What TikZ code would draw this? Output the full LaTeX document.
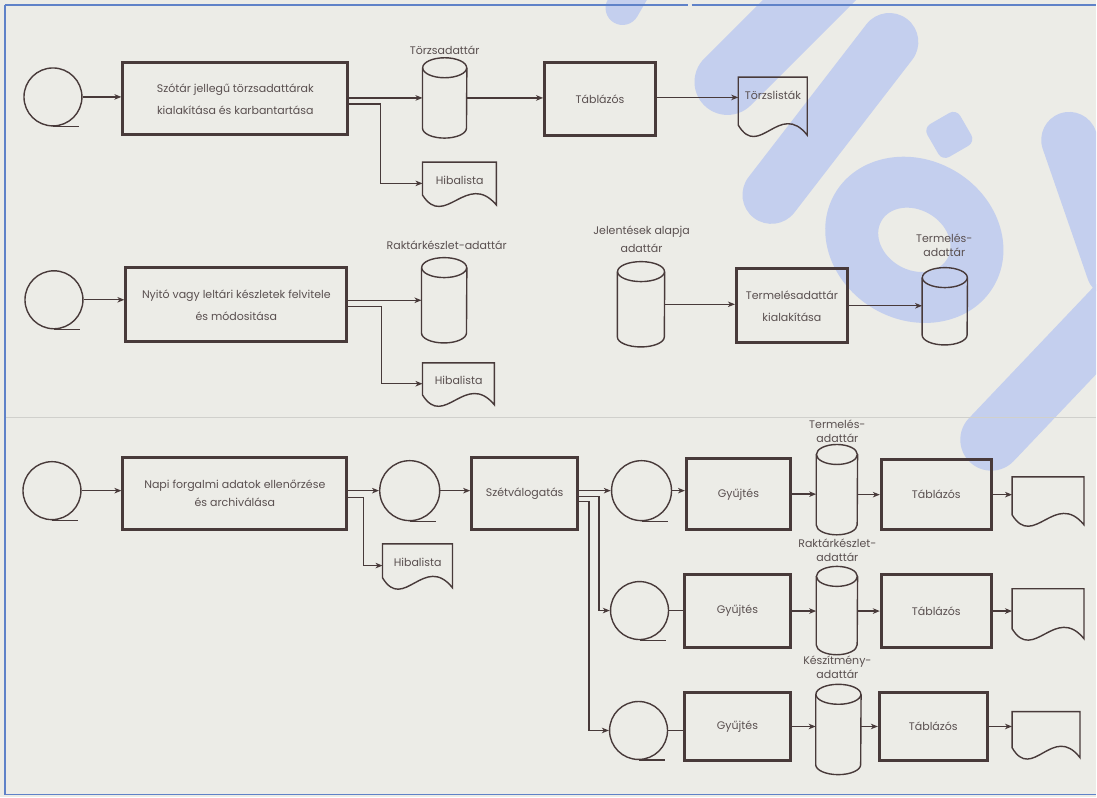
\documentclass[tikz,border=0pt]{standalone}
\usepackage{fontspec}
\setmainfont{Poppins}
\usetikzlibrary{arrows.meta,calc}
\definecolor{paper}{RGB}{236,236,231}
\definecolor{ink}{RGB}{72,58,58}
\definecolor{txt}{RGB}{90,80,80}
\definecolor{frameblue}{RGB}{95,130,200}
\definecolor{wm}{RGB}{196,207,238}
\definecolor{rule}{RGB}{208,208,204}
\newcommand\drawcyl[2]{%
  \draw[thinline] ([yshift=-10pt]#1.north) ellipse [x radius=#2pt, y radius=10pt];
  \draw[thinline] ([yshift=-10pt]#1.north west) -- ([yshift=10pt]#1.south west)
     arc[start angle=180, end angle=360, x radius=#2pt, y radius=10pt] -- ([yshift=-10pt]#1.north east);}
\newcommand\drawdoc[3]{%
  \draw[thinline, shift={(#1.south west)}] (0,-10) -- (0,-#3) -- (#2,-#3) -- (#2,0)
     .. controls (0.6*#2,-35) and (0.3*#2,25) .. (0,-10) -- cycle;}
\newcommand\reeltail[1]{\draw[thinline] (#1.south) -- ++(26,0);}
\begin{document}
\begin{tikzpicture}[x=1pt,y=-1pt,
  every node/.style={font=\fontsize{11}{14}\selectfont, text=txt},
  thinline/.style={draw=ink, line width=1.4pt},
  arr/.style={thinline, -{Stealth[length=7pt,width=5.5pt,inset=2pt]}},
  proc/.style n args={2}{rectangle, draw=ink, line width=3pt, minimum width=#1pt, minimum height=#2pt, inner sep=0pt, align=center},
  reel/.style={circle, draw=ink, line width=1.4pt, minimum size=58pt, inner sep=0pt},
  cyl/.style n args={2}{rectangle, minimum width=#1pt, minimum height=#2pt, inner sep=0pt},
  docu/.style n args={2}{rectangle, minimum width=#1pt, minimum height=#2pt, inner sep=0pt},
  lbl/.style={align=center, inner sep=0pt},
  wmstroke/.style={draw=wm, line cap=round, line join=round}
]
% background and frame
\fill[paper] (0,0) rectangle (1097,798);
% watermark
\begin{scope}
\clip (0,0) rectangle (1097,798);
\draw[wmstroke, line width=34pt] (623,8) -- (645,-30);
\draw[wmstroke, line width=66pt] (728,82) -- (840,-30);
\draw[wmstroke, line width=58pt] (772,195) -- (890,42);
\fill[wm, even odd rule, rotate around={-30:(915,240)}] (915,240) ellipse [x radius=92pt, y radius=80pt]
     (915,240) ellipse [x radius=38pt, y radius=30pt];
\fill[wm, rounded corners=8pt, rotate around={30:(950,135)}] (931,116) rectangle (969,154);
\draw[wmstroke, line width=62pt] (992,440) -- (1125,300);
\draw[wmstroke, line width=56pt] (1070,140) -- (1115,270);
\end{scope}
\draw[rule, line width=1pt] (5,418) -- (1097,418);
\draw[frameblue, line width=1.6pt] (5,5) -- (688,5);
\draw[frameblue, line width=1.6pt] (692,5) -- (1097,5);
\draw[frameblue, line width=1.6pt] (5,5) -- (5,795) -- (1097,795);

% ---------- row 1 ----------
\node[reel] (t1) at (53,97) {};
\node[proc={225}{72}] (b1) at (235.5,99) {Szótár jellegű törzsadattárak\\[8pt]kialakítása és karbantartása};
\node[cyl={44}{80}] (c1) at (445,98) {};
\node[lbl] (l1) at (445,50) {Törzsadattár};
\node[proc={111}{73}] (tb1) at (600.5,99.5) {Táblázós};
\node[docu={69}{58}, text depth=22pt] (d1) at (773.5,106) {Törzslisták};
\node[docu={74}{43}, text depth=6pt] (h1) at (460,183.5) {Hibalista};
\reeltail{t1}
\drawcyl{c1}{22}
\drawdoc{d1}{69}{58}
\drawdoc{h1}{74}{43}
\draw[arr] (t1.east) -- (t1.east -| b1.west);
\draw[arr] (b1.east |- c1) -- (c1.west);
\draw[arr] ($(b1.east |- c1)+(0,6)$) -- ++(31,0) |- (h1.west);
\draw[arr] (c1.east) -- (c1.east -| tb1.west);
\draw[arr] ($(tb1.east)+(0,-2)$) -- ($(tb1.east -| d1.west)+(0,-2)$);

% ---------- row 2 ----------
\node[reel] (t2) at (54,300) {};
\node[proc={221}{74}] (b2) at (236.5,305) {Nyitó vagy leltári készletek felvitele\\[8pt]és módositása};
\node[cyl={45}{85}] (c2) at (444.5,300.5) {};
\node[lbl] (l2) at (447,245) {Raktárkészlet-adattár};
\node[docu={72}{42}, text depth=6pt] (h2) at (459,384) {Hibalista};
\node[cyl={47}{85}] (c3) at (641.5,304.5) {};
\node[lbl] (l3) at (642,239) {Jelentések alapja\\[4pt]adattár};
\node[proc={111}{74}] (b3) at (792.5,306) {Termelésadattár\\[8pt]kialakítása};
\node[cyl={45}{77}] (c4) at (945.5,306.5) {};
\node[lbl] (l4) at (945,245) {Termelés-\\adattár};
\reeltail{t2}
\drawcyl{c2}{22.5}
\drawdoc{h2}{72}{42}
\drawcyl{c3}{23.5}
\drawcyl{c4}{22.5}
\draw[arr] (t2.east) -- (t2.east -| b2.west);
\draw[arr] (b2.east |- c2) -- (c2.west);
\draw[arr] ($(b2.east |- c2)+(0,6)$) -- ++(33,0) |- (h2.west);
\draw[arr] (c3.east) -- (c3.east -| b3.west);
\draw[arr] (b3.east) -- (b3.east -| c4.west);

% ---------- row 3 ----------
\node[reel] (t3) at (52,491) {};
\node[proc={224}{72}] (b4) at (235,494) {Napi forgalmi adatok ellenőrzése\\[4pt]és archiválása};
\node[docu={70}{44}, text depth=6pt] (h3) at (418,566) {Hibalista};
\node[reel, minimum size=60pt] (t4) at (410,491) {};
\node[proc={106}{72}] (b5) at (525,494) {Szétválogatás};
\node[reel, minimum size=60pt] (t5) at (642,491) {};
\node[proc={104}{71}] (b6) at (739,494.5) {Gyűjtés};
\node[cyl={41}{90}] (c5) at (837.5,490) {};
\node[lbl] (l5) at (838,432) {Termelés-\\adattár};
\node[proc={110}{70}] (b7) at (937,495) {Táblázós};
\node[docu={72}{48}] (d2) at (1049,501) {};
\reeltail{t3}
\reeltail{t4}
\reeltail{t5}
\drawdoc{h3}{70}{44}
\drawcyl{c5}{20.5}
\drawdoc{d2}{72}{48}
\draw[arr] (t3.east) -- (t3.east -| b4.west);
\draw[arr] (b4.east |- t4) -- (t4.west);
\draw[arr] ($(b4.east |- t4)+(0,7)$) -- ++(15,0) |- (h3.west);
\draw[arr] (t4.east) -- (t4.east -| b5.west);
\draw[arr] (b5.east |- t5) -- (t5.west);
\draw[arr] (t5.east) -- (t5.east -| b6.west);
\draw[arr] (b6.east) -- (b6.east -| c5.west);
\draw[arr] (c5.east |- b7) -- (b7.west);
\draw[arr] (b7.east) -- (b7.east -| d2.west);

% ---------- row 4 ----------
\node[reel] (t6) at (640,611) {};
\node[proc={106}{73}] (b8) at (738,611.5) {Gyűjtés};
\node[cyl={41}{88}] (c6) at (837.5,611) {};
\node[lbl] (l6) at (838,551) {Raktárkészlet-\\adattár};
\node[proc={110}{73}] (b9) at (937,611.5) {Táblázós};
\node[docu={72}{50}] (d3) at (1049,614) {};
\reeltail{t6}
\drawcyl{c6}{20.5}
\drawdoc{d3}{72}{50}
\draw[thinline] (t6.east) -- (t6.east -| b8.west);
\draw[arr] (b8.east) -- (b8.east -| c6.west);
\draw[arr] (c6.east |- b9) -- (b9.west);
\draw[arr] (b9.east) -- (b9.east -| d3.west);

% ---------- row 5 ----------
\node[reel] (t7) at (639,731) {};
\node[proc={106}{68}] (b10) at (738,727) {Gyűjtés};
\node[cyl={45}{90}] (c7) at (839,730) {};
\node[lbl] (l7) at (838,668) {Készítmény-\\adattár};
\node[proc={108}{68}] (b11) at (934,727) {Táblázós};
\node[docu={68}{46}] (d4) at (1047,735) {};
\reeltail{t7}
\drawcyl{c7}{22.5}
\drawdoc{d4}{68}{46}
\draw[thinline] (t7.east) -- (t7.east -| b10.west);
\draw[arr] (b10.east) -- (b10.east -| c7.west);
\draw[arr] (c7.east |- b11) -- (b11.west);
\draw[arr] (b11.east) -- (b11.east -| d4.west);

% branches from Szétválogatás
\draw[arr] ($(b5.east |- t5)+(0,6)$) -- ++(20,0) |- (t6.west);
\draw[arr] ($(b5.east |- t5)+(0,11)$) -- ++(10,0) |- (t7.west);
\end{tikzpicture}
\end{document}
